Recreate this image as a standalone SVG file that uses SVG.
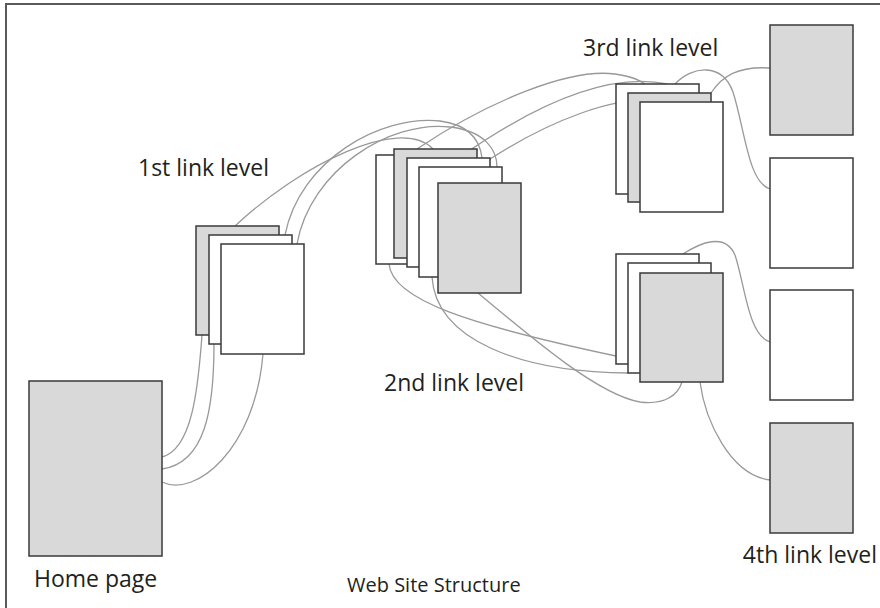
<svg xmlns="http://www.w3.org/2000/svg" width="880" height="608" viewBox="0 0 880 608">
<style>
.pg{stroke:#3a3a3a;stroke-width:1.5}
.g{fill:#d9d9d9}
.w{fill:#ffffff}
.c{fill:none;stroke:#999999;stroke-width:1.3}
.t{font-family:"Open Sans","Noto Sans",sans-serif;font-size:23px;fill:#231f20}
.t2{font-family:"Open Sans","Noto Sans",sans-serif;font-size:20px;fill:#231f20}
</style>
<rect x="0" y="0" width="880" height="608" fill="#ffffff"/>
<path d="M6,608 V4 H880" fill="none" stroke="#5a5a5a" stroke-width="2"/>
<g id="connectors">
<path class="c" d="M162,457 C192,449 198,390 202,335"/>
<path class="c" d="M162,469 C205,463 214,410 214,344"/>
<path class="c" d="M162,482 C195,498 255,450 263,354"/>
<path class="c" d="M235,226 C300,165 400,115 433,149"/>
<path class="c" d="M285,235 C300,160 380,115 440,121 C470,125 480,140 482,158"/>
<path class="c" d="M297,244 C310,170 390,120 450,127 C485,131 497,150 497,167"/>
<path class="c" d="M417,149 C490,100 570,68 615,74 C638,77 648,84 652,93"/>
<path class="c" d="M460,157 C520,115 600,70 667,84"/>
<path class="c" d="M478,167 C540,125 620,88 683,102"/>
<path class="c" d="M675,84 C692,66 722,62 733,92 C745,130 748,182 770,189"/>
<path class="c" d="M711,93 C722,76 738,66 770,68"/>
<path class="c" d="M389,264 C392,300 470,325 616,356"/>
<path class="c" d="M432,277 C436,340 520,372 628,373"/>
<path class="c" d="M478,293 C540,345 600,395 640,402 C665,405 678,395 682,382"/>
<path class="c" d="M683,254 C700,243 725,232 735,255 C745,285 748,335 770,342"/>
<path class="c" d="M700,382 C705,420 730,475 770,480"/>
</g>
<g id="home"><rect class="pg g" x="29" y="381" width="133" height="175"/></g>
<g id="l1-1"><rect class="pg g" x="196" y="226" width="83" height="109"/></g>
<g id="l1-2"><rect class="pg w" x="209" y="235" width="83" height="109"/></g>
<g id="l1-3"><rect class="pg w" x="221" y="244" width="83" height="110"/></g>
<g id="l2-1"><rect class="pg w" x="376" y="155" width="83" height="109"/></g>
<g id="l2-2"><rect class="pg g" x="394" y="149" width="83" height="109"/></g>
<g id="l2-3"><rect class="pg w" x="407" y="158" width="83" height="109"/></g>
<g id="l2-4"><rect class="pg w" x="419" y="167" width="83" height="110"/></g>
<g id="l2-5"><rect class="pg g" x="438" y="183" width="83" height="110"/></g>
<g id="l3a-1"><rect class="pg w" x="616" y="84" width="83" height="110"/></g>
<g id="l3a-2"><rect class="pg g" x="628" y="93" width="83" height="109"/></g>
<g id="l3a-3"><rect class="pg w" x="640" y="102" width="83" height="110"/></g>
<g id="l3b-1"><rect class="pg w" x="616" y="254" width="83" height="110"/></g>
<g id="l3b-2"><rect class="pg w" x="628" y="263" width="83" height="110"/></g>
<g id="l3b-3"><rect class="pg g" x="640" y="273" width="83" height="109"/></g>
<g id="l4-1"><rect class="pg g" x="770" y="25" width="83" height="110"/></g>
<g id="l4-2"><rect class="pg w" x="770" y="158" width="83" height="110"/></g>
<g id="l4-3"><rect class="pg w" x="770" y="290" width="83" height="110"/></g>
<g id="l4-4"><rect class="pg g" x="770" y="423" width="83" height="110"/></g>
<g id="labels">
<text class="t" x="138" y="176">1st link level</text>
<text class="t" x="384" y="391">2nd link level</text>
<text class="t" x="583" y="56">3rd link level</text>
<text class="t" x="877" y="563" text-anchor="end">4th link level</text>
<text class="t" x="34" y="587">Home page</text>
<text class="t2" x="347" y="592">Web Site Structure</text>
</g>
</svg>
